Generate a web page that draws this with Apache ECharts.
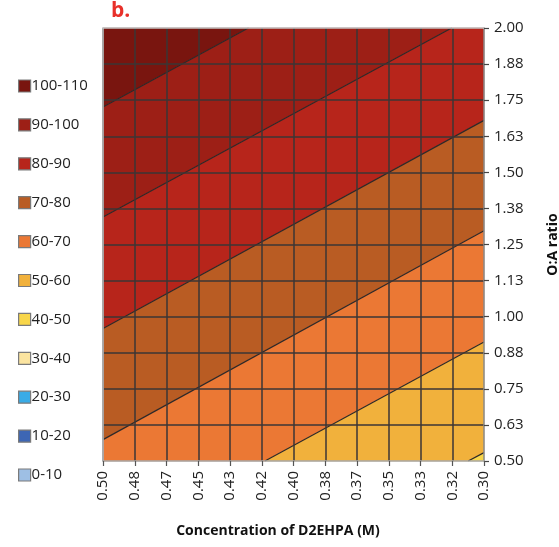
<!DOCTYPE html>
<html>
<head>
<meta charset="utf-8">
<script src="https://cdn.jsdelivr.net/npm/echarts@6/dist/echarts.min.js"></script>
<style>html,body{margin:0;padding:0;background:#fff;}#chart{width:559px;height:547px;}</style>
</head>
<body>
<div id="chart"></div>
<script>
// ---- data ----
const levelNames = ['100-110','90-100','80-90','70-80','60-70','50-60','40-50','30-40','20-30','10-20','0-10'];
const levelColors = ['#79150f','#9d1f16','#b7251b','#b95c23','#eb7834','#f1b13c','#f8d64a','#fbe4a0','#39abe6','#3d66b4','#9ebfe4'];

// band polygons: [concentration (M), O:A ratio]
const band100_110 = [[0.50,1.726],[0.4237,2.00],[0.50,2.00]];
const band90_100  = [[0.50,1.345],[0.317,2.00],[0.4237,2.00],[0.50,1.726]];
const band80_90   = [[0.50,0.959],[0.30,1.680],[0.30,2.00],[0.317,2.00],[0.50,1.345]];
const band70_80   = [[0.50,0.574],[0.30,1.2975],[0.30,1.680],[0.50,0.959]];
const band60_70   = [[0.50,0.50],[0.415,0.50],[0.30,0.9125],[0.30,1.2975],[0.50,0.574]];
const band50_60   = [[0.415,0.50],[0.3083,0.50],[0.30,0.529],[0.30,0.9125]];
const band40_50   = [[0.3083,0.50],[0.30,0.50],[0.30,0.529]];
const band30_40 = [], band20_30 = [], band10_20 = [], band0_10 = [];

// contour lines (boundaries between bands)
const contour100 = [[0.50,1.726],[0.4237,2.00]];
const contour90  = [[0.50,1.345],[0.317,2.00]];
const contour80  = [[0.50,0.959],[0.30,1.680]];
const contour70  = [[0.50,0.574],[0.30,1.2975]];
const contour60  = [[0.415,0.50],[0.30,0.9125]];
const contour50  = [[0.3083,0.50],[0.30,0.529]];

const xTickLabels = ['0.30','0.32','0.33','0.35','0.37','0.38','0.40','0.42','0.43','0.45','0.47','0.48','0.50'];
const yTickLabels = ['0.50','0.63','0.75','0.88','1.00','1.13','1.25','1.38','1.50','1.63','1.75','1.88','2.00'];

const xMin = 0.30, xMax = 0.50, xStep = 1/60;
const yMin = 0.50, yMax = 2.00, yStep = 0.125;

// ---- chart ----
const bands = [band100_110, band90_100, band80_90, band70_80, band60_70, band50_60, band40_50, band30_40, band20_30, band10_20, band0_10];
const contours = [contour100, contour90, contour80, contour70, contour60, contour50];

const FONT = 'Open Sans';
const series = [];
bands.forEach((poly, k) => {
  const color = levelColors[k];
  series.push({
    name: levelNames[k],
    type: 'custom',
    z: 2,
    itemStyle: { color: color },
    data: poly,
    encode: { x: 0, y: 1 },
    silent: true,
    renderItem: function (params, api) {
      if (params.dataIndex !== 0) return null;
      const pts = poly.map(p => api.coord(p));
      return { type: 'polygon', shape: { points: pts }, style: { fill: color, stroke: color, lineWidth: 0.5 } };
    }
  });
});
contours.forEach((c) => {
  series.push({
    type: 'line', data: c, symbol: 'none', silent: true, z: 4,
    lineStyle: { color: '#2e2929', width: 1.2 }, animation: false
  });
});

const chart = echarts.init(document.getElementById('chart'), null, { renderer: 'canvas' });
chart.setOption({
  animation: false,
  grid: { left: 103, right: 75, top: 28, bottom: 86, containLabel: false, outerBoundsMode: 'none' },
  legend: {
    orient: 'vertical', left: 18, top: 78, padding: 0,
    itemWidth: 12, itemHeight: 12, itemGap: 22.9,
    icon: 'rect', data: levelNames, selectedMode: false,
    itemStyle: { borderColor: '#7a7a7a', borderWidth: 1.2 },
    textStyle: { fontFamily: FONT, fontSize: 15, color: '#222', lineHeight: 16, padding: [0,0,0,-4] }
  },
  graphic: [{
    type: 'text', left: 111, top: 1,
    style: { text: 'b.', font: 'bold 21px "Open Sans"', fill: '#e8302a' }
  }],
  xAxis: [{
    type: 'value', min: xMin, max: xMax, interval: xStep, inverse: true, position: 'bottom', z: 5,
    name: 'Concentration of D2EHPA (M)', nameLocation: 'middle', nameGap: 63,
    nameTextStyle: { fontFamily: FONT, fontSize: 14, fontWeight: 'bold', color: '#111', padding: [0, 31, 0, 0] },
    axisLine: { show: true, lineStyle: { color: '#a8a8a8', width: 1.5 } },
    axisTick: { show: true, length: 5, lineStyle: { color: '#555', width: 1.2 } },
    axisLabel: {
      rotate: 90, margin: 10, fontFamily: FONT, fontSize: 15, color: '#222',
      formatter: v => xTickLabels[Math.round((v - xMin) / xStep)]
    },
    splitLine: { show: true, showMinLine: false, showMaxLine: false, lineStyle: { color: '#3b3636', width: 1.5 } }
  }, {
    type: 'value', min: xMin, max: xMax, inverse: true, position: 'top', z: 5,
    axisLine: { show: true, lineStyle: { color: '#c4c4c4', width: 1.5 } },
    axisTick: { show: false }, axisLabel: { show: false }, splitLine: { show: false }
  }],
  yAxis: [{
    type: 'value', min: yMin, max: yMax, interval: yStep, position: 'right', z: 5,
    name: 'O:A ratio', nameLocation: 'middle', nameGap: 62, nameRotate: 90,
    nameTextStyle: { fontFamily: FONT, fontSize: 14, fontWeight: 'bold', color: '#111' },
    axisLine: { show: true, lineStyle: { color: '#8a8a8a', width: 1.5 } },
    axisTick: { show: true, length: 5, lineStyle: { color: '#444', width: 1.2 } },
    axisLabel: {
      margin: 10, fontFamily: FONT, fontSize: 15, color: '#222',
      formatter: v => yTickLabels[Math.round((v - yMin) / yStep)]
    },
    splitLine: { show: true, showMinLine: false, showMaxLine: false, lineStyle: { color: '#3b3636', width: 1.5 } }
  }, {
    type: 'value', min: yMin, max: yMax, position: 'left', z: 5,
    axisLine: { show: true, lineStyle: { color: '#c4c4c4', width: 1.5 } },
    axisTick: { show: false }, axisLabel: { show: false }, splitLine: { show: false }
  }],
  series: series
});
</script>
</body>
</html>
